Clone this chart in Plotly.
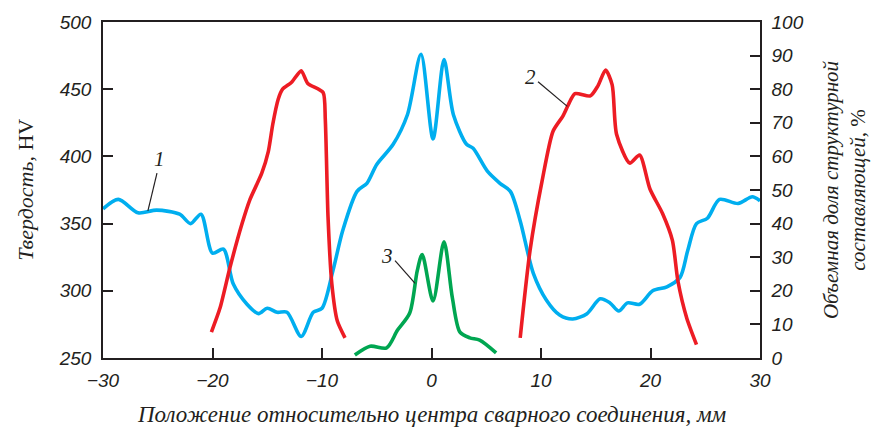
import plotly.graph_objects as go

# Curve 1: hardness, HV (left axis)
hv_x = [-30, -28.6, -26.8, -25.1, -23.0, -22.0, -21.05, -20.0, -19.0, -18.1, -16.85, -15.8, -15.0,
        -14.1, -13.2, -11.9, -10.8, -10.0, -9.0, -8.1, -6.8, -5.9, -5.0, -3.5, -2.2, -0.96, 0.14,
        1.14, 2.0, 3.2, 3.8, 5.1, 6.25, 7.2, 8.1, 9.3, 10.5, 11.7, 12.9, 14.2, 15.4, 16.3, 17.1,
        17.9, 19.0, 20.2, 21.5, 22.7, 23.4, 24.2, 25.2, 26.3, 28.0, 29.3, 30]
hv_y = [361, 368, 358, 360, 357, 350, 357, 328, 331, 305, 290, 283, 287,
        284, 284, 266, 284, 287, 315, 345, 374, 380, 394, 409, 431, 476, 413,
        472, 431, 409, 406, 389, 380, 374, 352, 313, 293, 282, 279, 283, 294, 291, 285,
        291, 290, 300, 303, 310, 330, 350, 354, 368, 365, 370, 367]

# Curve 2: volume fraction, % (right axis) - left and right branches
f2a_x = [-20.1, -19.3, -18.4, -17.3, -16.6, -15.5, -14.9, -14.5, -14.0, -13.6, -12.8, -11.9,
         -11.3, -9.9, -9.7, -9.45, -9.1, -8.6, -7.9]
f2a_y = [7.7, 15, 27, 40, 47, 55, 61.5, 69.5, 77, 80, 82, 85.5, 81.7, 79, 71, 42, 22, 11, 6]
f2b_x = [8.1, 9.0, 10.1, 11.1, 12.0, 12.5, 13.1, 14.5, 15.2, 15.9, 16.5, 16.9, 18.1, 19.0,
         19.95, 21.1, 22.0, 22.5, 23.3, 24.2]
f2b_y = [6, 32, 52.7, 67.5, 72, 75.4, 78.7, 78, 81, 85.7, 81.3, 66.6, 58, 60.4, 50.3, 43, 35,
         23, 12, 4]

# Curve 3: volume fraction, % (right axis)
f3_x = [-7.0, -5.6, -4.1, -3.1, -2.0, -1.3, -0.85, 0.14, 1.14, 1.9, 2.6, 3.5, 4.4, 5.9]
f3_y = [0.9, 3.5, 3.0, 8.3, 13.3, 26, 30.8, 17, 34.6, 18, 7.7, 6, 5.3, 1.5]

x_ticks = [-30, -20, -10, 0, 10, 20, 30]
x_ticktext = ["\u221230", "\u221220", "\u221210", "0", "10", "20", "30"]
hv_ticks = [250, 300, 350, 400, 450, 500]
pct_ticks = [0, 10, 20, 30, 40, 50, 60, 70, 80, 90, 100]

# curve labels: (text, text x, text y, leader start x/y, leader end x/y, axis)
labels = [
    ("1", -24.8, 398, -25.07, 387.6, -25.9, 359.5, "y"),
    ("2", 9.0, 83.7, 9.73, 82.2, 12.4, 74.9, "y2"),
    ("3", -4.06, 30.5, -3.33, 29.0, -1.5, 22.2, "y2"),
]

BLUE = "#00AEEF"
RED = "#ED1C24"
GREEN = "#00A651"
INK = "#231F20"
LW = 3.6

fig = go.Figure()
fig.add_trace(go.Scatter(x=hv_x, y=hv_y, mode="lines",
                         line=dict(color=BLUE, width=LW, shape="spline", smoothing=0.8)))
fig.add_trace(go.Scatter(x=f2a_x, y=f2a_y, mode="lines", yaxis="y2",
                         line=dict(color=RED, width=LW, shape="spline", smoothing=0.6)))
fig.add_trace(go.Scatter(x=f2b_x, y=f2b_y, mode="lines", yaxis="y2",
                         line=dict(color=RED, width=LW, shape="spline", smoothing=0.7)))
fig.add_trace(go.Scatter(x=f3_x, y=f3_y, mode="lines", yaxis="y2",
                         line=dict(color=GREEN, width=LW, shape="spline", smoothing=0.8)))

tickfont = dict(family="Liberation Sans, Arial, sans-serif", size=19, color=INK, style="italic")
serif = "Liberation Serif, Times New Roman, serif"

for txt, tx, ty, x0, y0, x1, y1, ax in labels:
    fig.add_shape(type="line", xref="x", yref=ax, x0=x0, y0=y0, x1=x1, y1=y1,
                  line=dict(color=INK, width=1.2))
    fig.add_annotation(x=tx, y=ty, xref="x", yref=ax, text=txt, showarrow=False,
                       font=dict(family=serif, size=21, color=INK, style="italic"),
                       xanchor="center", yanchor="middle")

fig.add_annotation(x=0.5, y=-0.168, xref="paper", yref="paper",
                   text="<i>Положение относительно центра сварного соединения, мм</i>",
                   showarrow=False, xanchor="center", yanchor="middle",
                   font=dict(family=serif, size=23, color=INK))
fig.add_annotation(x=-0.119, y=0.5, xref="paper", yref="paper", textangle=-90,
                   text="<i>Твердость,</i> HV", showarrow=False,
                   xanchor="center", yanchor="middle",
                   font=dict(family=serif, size=22, color=INK))
fig.add_annotation(x=1.128, y=0.5, xref="paper", yref="paper", textangle=-90,
                   text="<i>Объемная доля структурной<br>составляющей,</i> %", showarrow=False,
                   xanchor="center", yanchor="middle",
                   font=dict(family=serif, size=21, color=INK))

fig.update_layout(
    width=871, height=432,
    margin=dict(l=103, r=111, t=20, b=74),
    paper_bgcolor="white", plot_bgcolor="white",
    showlegend=False,
    xaxis=dict(range=[-30, 30], tickmode="array", tickvals=x_ticks, ticktext=x_ticktext,
               ticks="inside", ticklen=10, tickwidth=1.5, tickcolor=INK,
               showline=True, linecolor=INK, linewidth=1.5, mirror=True,
               showgrid=False, zeroline=False, tickfont=tickfont, ticklabelstandoff=4),
    yaxis=dict(range=[250, 500], tickmode="array", tickvals=hv_ticks,
               ticks="inside", ticklen=10, tickwidth=1.5, tickcolor=INK,
               showline=True, linecolor=INK, linewidth=1.5,
               showgrid=False, zeroline=False, tickfont=tickfont, ticklabelstandoff=6),
    yaxis2=dict(range=[0, 100], tickmode="array", tickvals=pct_ticks, overlaying="y",
                side="right", ticks="inside", ticklen=10, tickwidth=1.5, tickcolor=INK,
                showline=True, linecolor=INK, linewidth=1.5,
                showgrid=False, zeroline=False, tickfont=tickfont, ticklabelstandoff=6),
)

fig.write_html("out.html")
